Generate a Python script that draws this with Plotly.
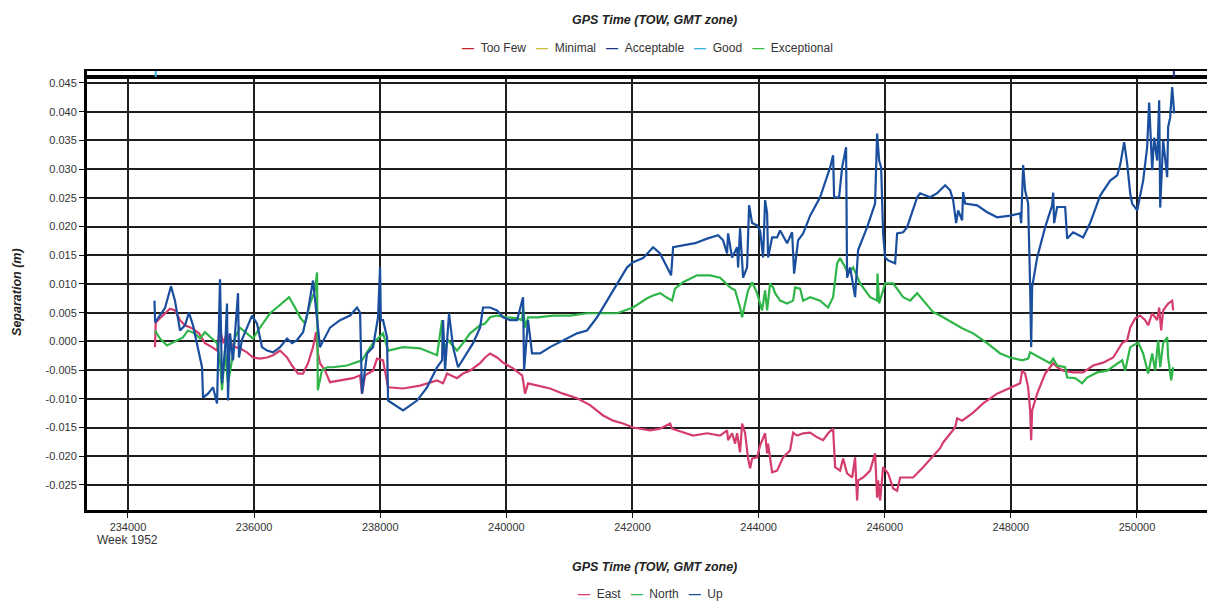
import plotly.graph_objects as go

# GPS time of week (s) and separation (m)
east_t = [234428, 234440, 234523, 234666, 234745, 234825, 234904, 235015, 235126, 235221,
          235332, 235412, 235459, 235507, 235570, 235618, 235697, 235776, 235887, 235983,
          236094, 236205, 236300, 236411, 236522, 236601, 236696, 236776, 236855, 236934,
          236982, 237013, 237045, 237124, 237204, 237362, 237568, 237680, 237711, 237759,
          237886, 237949, 238044, 238124, 238362, 238631, 238901, 238996, 239059, 239218,
          239313, 239424, 239583, 239662, 239741, 239852, 239948, 240106, 240249, 240265,
          240296, 240344, 240487, 240693, 240899, 241121, 241327, 241534, 241692, 241851,
          242009, 242279, 242438, 242596, 242628, 242802, 242961, 243183, 243389, 243500,
          243516, 243579, 243627, 243659, 243706, 243738, 243786, 243833, 243865, 243897,
          243976, 244024, 244103, 244135, 244150, 244214, 244293, 244388, 244499, 244547,
          244610, 244706, 244817, 244928, 245023, 245102, 245181, 245213, 245292, 245340,
          245403, 245483, 245530, 245562, 245578, 245657, 245768, 245847, 245879, 245895,
          245927, 245974, 246054, 246133, 246196, 246244, 246450, 246609, 246767, 246878,
          246926, 247116, 247148, 247227, 247402, 247560, 247782, 247989, 248147, 248179,
          248226, 248274, 248306, 248322, 248337, 248417, 248544, 248671, 248734, 248829,
          248988, 249146, 249305, 249464, 249622, 249765, 249844, 249892, 249971, 250050,
          250130, 250177, 250241, 250320, 250352, 250383, 250415, 250494, 250558, 250574]
east_v = [-0.0010, 0.0033, 0.0042, 0.0057, 0.0054, 0.0037, 0.0028, 0.0023, 0.0014, -0.0003,
          -0.0010, -0.0016, 0.0023, -0.0003, 0.0014, -0.0002, -0.0010, -0.0012, -0.0019, -0.0028,
          -0.0030, -0.0028, -0.0024, -0.0016, -0.0028, -0.0042, -0.0056, -0.0056, -0.0038, -0.0010,
          0.0016, -0.0021, -0.0038, -0.0051, -0.0071, -0.0068, -0.0064, -0.0059, -0.0091, -0.0059,
          -0.0051, -0.0030, -0.0033, -0.0080, -0.0082, -0.0077, -0.0068, -0.0073, -0.0056, -0.0064,
          -0.0056, -0.0051, -0.0038, -0.0028, -0.0021, -0.0028, -0.0037, -0.0047, -0.0059, -0.0068,
          -0.0091, -0.0073, -0.0077, -0.0082, -0.0091, -0.0099, -0.0111, -0.0129, -0.0138, -0.0143,
          -0.0150, -0.0155, -0.0152, -0.0143, -0.0152, -0.0159, -0.0164, -0.0160, -0.0164, -0.0155,
          -0.0172, -0.0160, -0.0178, -0.0160, -0.0193, -0.0143, -0.0160, -0.0204, -0.0221, -0.0204,
          -0.0202, -0.0181, -0.0160, -0.0195, -0.0178, -0.0228, -0.0225, -0.0202, -0.0190, -0.0159,
          -0.0164, -0.0160, -0.0159, -0.0167, -0.0172, -0.0160, -0.0152, -0.0219, -0.0225, -0.0204,
          -0.0230, -0.0237, -0.0202, -0.0277, -0.0242, -0.0237, -0.0225, -0.0195, -0.0272, -0.0242,
          -0.0277, -0.0219, -0.0230, -0.0256, -0.0260, -0.0237, -0.0237, -0.0219, -0.0199, -0.0186,
          -0.0176, -0.0150, -0.0134, -0.0138, -0.0124, -0.0108, -0.0091, -0.0080, -0.0073, -0.0051,
          -0.0056, -0.0080, -0.0120, -0.0172, -0.0120, -0.0091, -0.0056, -0.0038, -0.0045, -0.0051,
          -0.0054, -0.0054, -0.0042, -0.0037, -0.0028, -0.0003, 0.0002, 0.0024, 0.0040, 0.0045,
          0.0037, 0.0028, 0.0049, 0.0037, 0.0059, 0.0019, 0.0054, 0.0066, 0.0071, 0.0054]

north_t = [234428, 234507, 234619, 234713, 234872, 234951, 235062, 235142, 235221, 235332,
           235412, 235459, 235491, 235538, 235586, 235649, 235697, 235776, 235887, 235983,
           236062, 236141, 236252, 236363, 236458, 236554, 236649, 236728, 236807, 236887,
           236966, 236998, 237010, 237077, 237156, 237251, 237473, 237711, 237807, 237886,
           237981, 238044, 238124, 238362, 238632, 238901, 238980, 238996, 239075, 239218,
           239313, 239424, 239583, 239662, 239741, 239852, 240011, 240170, 240249, 240265,
           240297, 240344, 240487, 240741, 241010, 241280, 241533, 241756, 242009, 242232,
           242327, 242438, 242564, 242628, 242675, 242802, 243024, 243231, 243389, 243468,
           243548, 243627, 243706, 243738, 243786, 243833, 243897, 243976, 244055, 244103,
           244135, 244182, 244230, 244261, 244341, 244452, 244547, 244579, 244658, 244706,
           244817, 244975, 245102, 245181, 245245, 245292, 245372, 245419, 245499, 245610,
           245768, 245879, 245885, 245911, 246006, 246133, 246292, 246403, 246514, 246609,
           246767, 246878, 246926, 247227, 247402, 247624, 247830, 247989, 248179, 248274,
           248306, 248464, 248623, 248671, 248734, 248861, 248893, 249019, 249130, 249210,
           249368, 249527, 249686, 249765, 249812, 249892, 250019, 250098, 250177, 250241,
           250288, 250336, 250368, 250415, 250479, 250494, 250542, 250574]
north_v = [0.0019, 0.0005, -0.0007, -0.0002, 0.0007, 0.0019, 0.0014, 0.0005, 0.0016, 0.0005,
           -0.0003, -0.0033, -0.0085, -0.0016, -0.0073, -0.0033, 0.0007, 0.0024, 0.0014, 0.0005,
           0.0019, 0.0031, 0.0049, 0.0059, 0.0068, 0.0077, 0.0059, 0.0042, 0.0031, 0.0066,
           0.0089, 0.0120, -0.0085, -0.0050, -0.0045, -0.0045, -0.0042, -0.0033, -0.0016, -0.0003,
           0.0007, 0.0014, -0.0016, -0.0010, -0.0012, -0.0024, 0.0037, -0.0021, 0.0002, -0.0016,
           -0.0003, 0.0014, 0.0028, 0.0031, 0.0042, 0.0045, 0.0042, 0.0040, 0.0037, 0.0059,
           0.0024, 0.0042, 0.0042, 0.0045, 0.0045, 0.0049, 0.0049, 0.0049, 0.0059, 0.0075,
           0.0080, 0.0084, 0.0075, 0.0071, 0.0092, 0.0103, 0.0115, 0.0115, 0.0111, 0.0103,
           0.0094, 0.0089, 0.0059, 0.0042, 0.0066, 0.0089, 0.0103, 0.0084, 0.0054, 0.0089,
           0.0054, 0.0101, 0.0094, 0.0084, 0.0071, 0.0066, 0.0071, 0.0094, 0.0092, 0.0071,
           0.0077, 0.0071, 0.0059, 0.0077, 0.0136, 0.0145, 0.0129, 0.0118, 0.0129, 0.0101,
           0.0077, 0.0071, 0.0118, 0.0066, 0.0101, 0.0101, 0.0077, 0.0071, 0.0084, 0.0071,
           0.0051, 0.0045, 0.0042, 0.0023, 0.0014, -0.0003, -0.0021, -0.0028, -0.0033, -0.0030,
           -0.0019, -0.0028, -0.0038, -0.0030, -0.0042, -0.0045, -0.0063, -0.0064, -0.0073, -0.0063,
           -0.0054, -0.0051, -0.0038, -0.0033, -0.0051, -0.0010, -0.0002, -0.0021, -0.0056, -0.0021,
           -0.0051, 0.0002, -0.0045, -0.0003, 0.0007, -0.0028, -0.0068, -0.0045]

up_t = [234420, 234430, 234587, 234682, 234745, 234825, 234904, 234967, 235031, 235110,
        235174, 235190, 235269, 235348, 235412, 235459, 235491, 235538, 235570, 235586,
        235618, 235665, 235745, 235760, 235808, 235887, 235967, 236046, 236125, 236205,
        236300, 236411, 236522, 236601, 236680, 236776, 236855, 236934, 237013, 237045,
        237077, 237204, 237362, 237521, 237632, 237680, 237711, 237791, 237886, 237965,
        237997, 238010, 238044, 238108, 238124, 238362, 238584, 238742, 238901, 238980,
        238996, 239028, 239091, 239155, 239234, 239377, 239472, 239583, 239630, 239741,
        239852, 239948, 240059, 240170, 240265, 240281, 240344, 240407, 240534, 240693,
        240899, 241121, 241280, 241438, 241597, 241756, 241914, 242009, 242168, 242327,
        242438, 242549, 242612, 242644, 242802, 242993, 243183, 243357, 243437, 243500,
        243516, 243579, 243659, 243675, 243706, 243754, 243817, 243849, 243897, 243976,
        244024, 244071, 244103, 244135, 244150, 244214, 244293, 244341, 244452, 244531,
        244563, 244626, 244706, 244817, 244975, 245134, 245181, 245197, 245276, 245324,
        245387, 245403, 245451, 245530, 245578, 245721, 245847, 245879, 245911, 245943,
        245974, 246006, 246054, 246165, 246196, 246292, 246355, 246514, 246561, 246720,
        246831, 246958, 247037, 247085, 247132, 247164, 247227, 247243, 247275, 247465,
        247624, 247782, 247989, 248147, 248163, 248195, 248226, 248274, 248306, 248322,
        248337, 248417, 248544, 248655, 248671, 248686, 248734, 248861, 248893, 248988,
        249146, 249257, 249416, 249575, 249686, 249733, 249797, 249844, 249892, 249923,
        250003, 250098, 250161, 250193, 250241, 250272, 250320, 250352, 250368, 250415,
        250479, 250494, 250526, 250558, 250590]
up_v = [0.0071, 0.0033, 0.0058, 0.0096, 0.0071, 0.0019, 0.0028, 0.0050, 0.0028, -0.0010,
        -0.0045, -0.0098, -0.0091, -0.0080, -0.0108, 0.0108, -0.0073, -0.0016, 0.0066, -0.0103,
        0.0014, -0.0033, 0.0084, -0.0028, 0.0003, 0.0024, 0.0045, 0.0031, -0.0010, -0.0016,
        -0.0019, -0.0010, 0.0005, -0.0003, 0.0002, 0.0016, 0.0054, 0.0106, 0.0019, -0.0010,
        -0.0003, 0.0024, 0.0037, 0.0045, 0.0059, 0.0050, -0.0091, -0.0021, -0.0010, 0.0042,
        0.0129, 0.0037, 0.0037, 0.0007, -0.0103, -0.0120, -0.0103, -0.0080, -0.0045, -0.0033,
        0.0037, -0.0050, 0.0049, -0.0010, -0.0045, -0.0021, -0.0003, 0.0024, 0.0059, 0.0059,
        0.0054, 0.0042, 0.0037, 0.0037, 0.0077, -0.0050, 0.0037, -0.0021, -0.0021, -0.0010,
        0.0002, 0.0014, 0.0019, 0.0042, 0.0071, 0.0101, 0.0129, 0.0138, 0.0145, 0.0164,
        0.0153, 0.0129, 0.0115, 0.0164, 0.0167, 0.0171, 0.0179, 0.0185, 0.0176, 0.0153,
        0.0188, 0.0146, 0.0164, 0.0129, 0.0197, 0.0111, 0.0129, 0.0237, 0.0206, 0.0202,
        0.0193, 0.0146, 0.0246, 0.0223, 0.0146, 0.0181, 0.0181, 0.0193, 0.0171, 0.0190,
        0.0118, 0.0176, 0.0188, 0.0219, 0.0251, 0.0303, 0.0324, 0.0251, 0.0251, 0.0303,
        0.0338, 0.0111, 0.0129, 0.0077, 0.0159, 0.0199, 0.0240, 0.0362, 0.0315, 0.0303,
        0.0188, 0.0146, 0.0141, 0.0136, 0.0188, 0.0190, 0.0199, 0.0251, 0.0258, 0.0251,
        0.0258, 0.0272, 0.0263, 0.0246, 0.0206, 0.0228, 0.0211, 0.0260, 0.0240, 0.0237,
        0.0225, 0.0216, 0.0219, 0.0223, 0.0206, 0.0307, 0.0263, 0.0240, 0.0094, -0.0010,
        0.0094, 0.0146, 0.0199, 0.0237, 0.0259, 0.0206, 0.0234, 0.0234, 0.0179, 0.0190,
        0.0181, 0.0206, 0.0254, 0.0280, 0.0289, 0.0307, 0.0347, 0.0310, 0.0258, 0.0240,
        0.0228, 0.0280, 0.0338, 0.0416, 0.0298, 0.0355, 0.0315, 0.0420, 0.0233, 0.0350,
        0.0286, 0.0373, 0.0390, 0.0443, 0.0397]

assert len(east_t) == len(east_v)
assert len(north_t) == len(north_v)
assert len(up_t) == len(up_v)

# solution quality strip along the top
quality_names = ["Too Few", "Minimal", "Acceptable", "Good", "Exceptional"]
quality_colors = ["#c0272d", "#c9bf3b", "#1b3484", "#38b0d8", "#3dc23d"]
quality_t = [234440, 250585]
quality_class = ["Good", "Acceptable"]

x_ticks = [234000, 236000, 238000, 240000, 242000, 244000, 246000, 248000, 250000]
y_ticks = [-0.025, -0.020, -0.015, -0.010, -0.005, 0.0, 0.005, 0.010, 0.015, 0.020,
           0.025, 0.030, 0.035, 0.040, 0.045]
y_tick_text = ["-0.025", "-0.020", "-0.015", "-0.010", "-0.005", "0.000", "0.005", "0.010",
               "0.015", "0.020", "0.025", "0.030", "0.035", "0.040", "0.045"]

series = [("East", east_t, east_v, "#d43d6b"),
          ("North", north_t, north_v, "#2fb548"),
          ("Up", up_t, up_v, "#1a4e9e")]

FONT = "Liberation Sans, Arial, sans-serif"

fig = go.Figure()
for name, t, v, col in series:
    fig.add_trace(go.Scatter(x=t, y=v, name=name, mode="lines",
                             line=dict(color=col, width=2.2), showlegend=False))

for t, q in zip(quality_t, quality_class):
    col = quality_colors[quality_names.index(q)]
    fig.add_trace(go.Scatter(x=[t, t], y=[0, 1], name=q, mode="lines",
                             line=dict(color=col, width=2), showlegend=False,
                             xaxis="x2", yaxis="y2"))

x_range = [233350, 251237]

# the page body has an 8px margin, so the figure is sized to end at the window edge
fig.update_layout(
    width=1207, height=594,
    margin=dict(l=79, r=0, t=63, b=92),
    plot_bgcolor="white", paper_bgcolor="white",
    font=dict(family=FONT, size=11, color="#333"),
    xaxis=dict(domain=[0, 1], range=x_range, tickvals=x_ticks,
               ticktext=[str(v) for v in x_ticks],
               ticks="outside", ticklen=5, tickcolor="#111",
               showgrid=True, gridcolor="#1e1e1e", gridwidth=1.5,
               showline=True, linecolor="black", linewidth=3, mirror=True,
               zeroline=False),
    yaxis=dict(domain=[0, 0.9841], range=[-0.02936, 0.04587],
               tickvals=y_ticks, ticktext=y_tick_text,
               ticks="outside", ticklen=5, tickcolor="#111",
               showgrid=True, gridcolor="#1e1e1e", gridwidth=1.5,
               showline=True, linecolor="black", linewidth=3,
               zeroline=False),
    xaxis2=dict(anchor="y2", range=x_range, showticklabels=False, ticks="",
                showgrid=False, showline=True, linecolor="black", linewidth=2,
                mirror=True, zeroline=False),
    yaxis2=dict(domain=[0.9863, 1], range=[0, 1], showticklabels=False, ticks="",
                showgrid=False, showline=True, linecolor="black", linewidth=3,
                zeroline=False),
)


def legend_text(names, colors):
    parts = []
    for n, c in zip(names, colors):
        parts.append("<span style='color:%s'><b>\u2014</b></span>\u00a0\u00a0%s" % (c, n))
    return "\u00a0\u00a0\u00a0".join(parts)


title_font = dict(family=FONT, size=12.5, color="#222")
label_font = dict(family=FONT, size=12, color="#333")
notes = [
    ("<b><i>GPS Time (TOW, GMT zone)</i></b>", "paper", 0.5035, 1.1162, 0, title_font),
    (legend_text(quality_names, quality_colors), "paper", 0.4973, 1.0524, 0, label_font),
    ("<b><i>GPS Time (TOW, GMT zone)</i></b>", "paper", 0.5035, -0.1298, 0, title_font),
    (legend_text([s[0] for s in series], [s[3] for s in series]), "paper", 0.4996, -0.1913, 0, label_font),
    ("Week 1952", "x", 234000, -0.0683, 0, label_font),
    ("<b><i>Separation (m)</i></b>", "paper", -0.0621, 0.4966, -90, title_font),
]
for text, xref, x, y, angle, font in notes:
    fig.add_annotation(text=text, xref=xref, yref="paper", x=x, y=y, textangle=angle,
                       xanchor="center", yanchor="middle", showarrow=False, font=font)

fig.write_html("out.html")
